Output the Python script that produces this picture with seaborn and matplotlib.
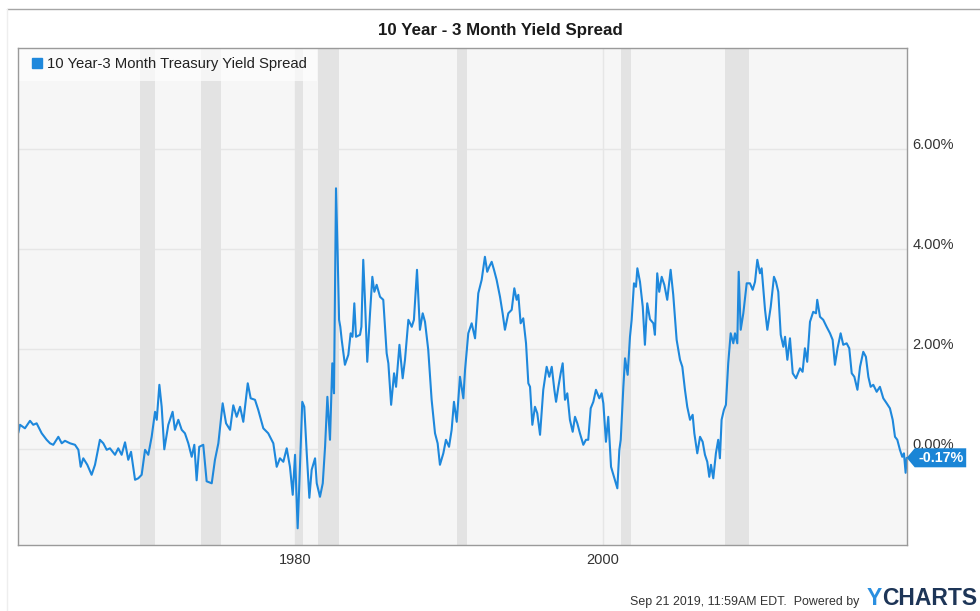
import matplotlib
matplotlib.use("Agg")
import matplotlib.pyplot as plt
import matplotlib.transforms as mtransforms
from matplotlib.lines import Line2D
from matplotlib.patches import Polygon
import pandas as pd
import seaborn as sns

# 10 Year minus 3 Month Treasury yield spread (percent), by decimal year
years = [
    1962.02, 1962.13, 1962.45, 1962.78, 1962.99, 1963.21, 1963.54, 1963.86, 1964.08, 1964.29,
    1964.62, 1964.84, 1965.05, 1965.38, 1965.70, 1965.92, 1966.07, 1966.24, 1966.50, 1966.78,
    1967.00, 1967.32, 1967.54, 1967.76, 1967.97, 1968.30, 1968.51, 1968.73, 1968.95, 1969.16,
    1969.34, 1969.60, 1969.81, 1970.03, 1970.25, 1970.46, 1970.68, 1970.90, 1971.01, 1971.18,
    1971.33, 1971.50, 1971.76, 1972.04, 1972.19, 1972.41, 1972.63, 1972.84, 1973.06, 1973.28,
    1973.45, 1973.60, 1973.77, 1974.03, 1974.25, 1974.58, 1974.79, 1975.01, 1975.29, 1975.51,
    1975.77, 1975.98, 1976.20, 1976.42, 1976.63, 1976.92, 1977.11, 1977.39, 1977.60, 1977.93,
    1978.25, 1978.58, 1978.80, 1979.01, 1979.23, 1979.45, 1979.66, 1979.84, 1979.99, 1980.16,
    1980.31, 1980.46, 1980.59, 1980.75, 1980.92, 1981.07, 1981.29, 1981.40, 1981.61, 1981.79,
    1981.94, 1982.09, 1982.26, 1982.41, 1982.52, 1982.65, 1982.75, 1982.85, 1982.93, 1983.02,
    1983.23, 1983.45, 1983.60, 1983.72, 1983.84, 1983.95, 1984.21, 1984.30, 1984.42, 1984.53,
    1984.68, 1984.86, 1985.01, 1985.14, 1985.29, 1985.51, 1985.72, 1985.94, 1986.05, 1986.23,
    1986.42, 1986.55, 1986.77, 1986.98, 1987.13, 1987.35, 1987.57, 1987.71, 1987.91, 1988.10,
    1988.28, 1988.43, 1988.64, 1988.86, 1989.08, 1989.25, 1989.40, 1989.62, 1989.79, 1989.99,
    1990.16, 1990.31, 1990.49, 1990.70, 1990.92, 1991.03, 1991.24, 1991.46, 1991.68, 1991.89,
    1992.11, 1992.32, 1992.47, 1992.60, 1992.76, 1992.91, 1993.08, 1993.30, 1993.47, 1993.62,
    1993.84, 1994.06, 1994.23, 1994.38, 1994.49, 1994.64, 1994.81, 1994.99, 1995.14, 1995.25,
    1995.40, 1995.57, 1995.72, 1995.90, 1996.11, 1996.33, 1996.50, 1996.66, 1996.83, 1996.94,
    1997.09, 1997.24, 1997.37, 1997.52, 1997.67, 1997.84, 1998.02, 1998.17, 1998.32, 1998.49,
    1998.71, 1998.88, 1999.03, 1999.19, 1999.36, 1999.53, 1999.75, 1999.90, 2000.01, 2000.18,
    2000.33, 2000.51, 2000.70, 2000.92, 2001.05, 2001.14, 2001.31, 2001.42, 2001.59, 2001.74,
    2001.85, 2002.00, 2002.13, 2002.22, 2002.39, 2002.57, 2002.71, 2002.86, 2003.04, 2003.26,
    2003.36, 2003.51, 2003.64, 2003.80, 2003.97, 2004.16, 2004.38, 2004.55, 2004.77, 2004.99,
    2005.14, 2005.31, 2005.46, 2005.64, 2005.81, 2005.92, 2006.11, 2006.29, 2006.46, 2006.61,
    2006.76, 2006.89, 2007.00, 2007.15, 2007.32, 2007.47, 2007.58, 2007.69, 2007.84, 2007.97,
    2008.12, 2008.28, 2008.45, 2008.56, 2008.71, 2008.80, 2008.93, 2009.10, 2009.32, 2009.53,
    2009.71, 2009.86, 2010.01, 2010.18, 2010.29, 2010.51, 2010.66, 2010.88, 2011.09, 2011.22,
    2011.37, 2011.53, 2011.70, 2011.81, 2011.96, 2012.13, 2012.31, 2012.52, 2012.78, 2012.95,
    2013.10, 2013.25, 2013.43, 2013.64, 2013.82, 2013.90, 2014.08, 2014.29, 2014.51, 2014.73,
    2014.90, 2015.05, 2015.22, 2015.42, 2015.59, 2015.81, 2015.98, 2016.14, 2016.31, 2016.51,
    2016.68, 2016.89, 2017.06, 2017.22, 2017.37, 2017.54, 2017.76, 2017.97, 2018.19, 2018.41,
    2018.62, 2018.80, 2018.95, 2019.10, 2019.27, 2019.42, 2019.53, 2019.64, 2019.71,
]
spread = [
    0.33, 0.49, 0.42, 0.57, 0.49, 0.52, 0.32, 0.19, 0.12, 0.09,
    0.25, 0.12, 0.17, 0.12, 0.09, -0.01, -0.35, -0.18, -0.31, -0.51,
    -0.31, 0.19, 0.12, -0.01, 0.02, -0.11, 0.02, -0.11, 0.14, -0.21,
    -0.05, -0.61, -0.58, -0.51, -0.01, -0.11, 0.25, 0.75, 0.59, 1.29,
    0.85, -0.00, 0.49, 0.75, 0.39, 0.59, 0.39, 0.32, 0.12, -0.15,
    0.09, -0.62, 0.05, 0.09, -0.64, -0.68, -0.21, 0.12, 0.92, 0.52,
    0.39, 0.88, 0.65, 0.85, 0.55, 1.32, 1.02, 0.99, 0.79, 0.42,
    0.32, 0.12, -0.35, -0.18, -0.25, 0.02, -0.35, -0.91, -0.11, -1.58,
    -0.35, 0.95, 0.85, -0.08, -0.97, -0.41, -0.18, -0.68, -0.95, -0.68,
    0.05, 1.05, 0.19, 1.72, 1.12, 5.22, 3.99, 2.59, 2.45, 2.19,
    1.69, 1.89, 2.32, 2.25, 2.92, 2.25, 2.29, 2.45, 3.79, 2.99,
    1.75, 2.72, 3.45, 3.15, 3.29, 3.05, 2.99, 1.92, 1.72, 0.89,
    1.52, 1.25, 2.09, 1.42, 1.79, 2.59, 2.45, 2.59, 3.59, 2.39,
    2.72, 2.55, 1.99, 0.99, 0.32, 0.12, -0.31, -0.08, 0.19, 0.05,
    0.39, 0.95, 0.55, 1.45, 1.02, 1.59, 2.32, 2.52, 2.22, 3.12,
    3.39, 3.85, 3.55, 3.65, 3.75, 3.59, 3.39, 3.05, 2.72, 2.39,
    2.72, 2.79, 3.22, 2.99, 3.09, 2.52, 2.62, 2.12, 1.32, 1.25,
    0.49, 0.85, 0.72, 0.29, 1.19, 1.65, 1.45, 1.65, 1.19, 0.95,
    1.25, 1.52, 1.72, 0.99, 1.12, 0.59, 0.35, 0.65, 0.52, 0.32,
    0.09, 0.19, 0.19, 0.82, 0.95, 1.19, 1.02, 1.12, 0.92, 0.15,
    0.65, -0.35, -0.55, -0.78, -0.01, 0.19, 1.25, 1.82, 1.49, 2.25,
    2.59, 3.32, 3.25, 3.62, 3.35, 2.85, 2.09, 2.92, 2.60, 2.52,
    2.29, 3.52, 3.15, 3.45, 3.29, 2.99, 3.59, 3.09, 2.19, 1.79,
    1.65, 1.19, 0.85, 0.59, 0.69, 0.32, -0.08, 0.25, 0.15, -0.11,
    -0.25, -0.55, -0.31, -0.58, -0.08, 0.19, -0.18, 0.59, 0.79, 0.89,
    1.72, 2.32, 2.12, 2.32, 2.12, 3.55, 2.39, 2.72, 3.32, 3.32,
    3.19, 3.35, 3.79, 3.52, 3.62, 2.79, 2.39, 2.85, 3.45, 3.35,
    3.15, 2.29, 2.05, 2.25, 1.79, 2.22, 1.52, 1.42, 1.62, 1.55,
    2.02, 1.75, 2.55, 2.75, 2.72, 2.99, 2.65, 2.59, 2.45, 2.32,
    2.19, 1.69, 2.02, 2.32, 2.09, 2.12, 2.02, 1.52, 1.45, 1.19,
    1.65, 1.95, 1.85, 1.45, 1.25, 1.29, 1.15, 1.25, 1.02, 0.92,
    0.82, 0.59, 0.25, 0.19, -0.01, -0.15, -0.08, -0.47, -0.17,
]

# NBER recession periods (decimal years)
recession_start = [1969.92, 1973.88, 1980.00, 1981.50, 1990.50, 2001.17, 2007.92]
recession_end = [1970.87, 1975.20, 1980.50, 1982.87, 1991.17, 2001.83, 2009.46]

ytick_values = [0, 2, 4, 6]
ytick_labels = ["0.00%", "2.00%", "4.00%", "6.00%"]
xtick_values = [1980, 2000]
xtick_labels = ["1980", "2000"]

title_text = "10 Year - 3 Month Yield Spread"
series_name = "10 Year-3 Month Treasury Yield Spread"
latest_value = -0.17
latest_label = "-0.17%"
footer_text = "Sep 21 2019, 11:59AM EDT.  Powered by"

LINE_BLUE = "#1e88dc"
TAG_BLUE = "#1a85d6"

df = pd.DataFrame({"year": years, "spread": spread})

sns.set_theme(style="white")
plt.rcParams["font.family"] = ["Liberation Sans", "DejaVu Sans"]

W, H = 980, 611
fig = plt.figure(figsize=(W / 100, H / 100), dpi=100)
fig.patch.set_facecolor("white")

left, right, top, bottom = 18, 906.7, 47.5, 544.5
ax = fig.add_axes([left / W, 1 - bottom / H, (right - left) / W, (bottom - top) / H])
ax.set_facecolor("#f6f6f6")

# recession shading
for s, e in zip(recession_start, recession_end):
    ax.axvspan(s, e, color="#e3e3e3", lw=0, zorder=1)

sns.lineplot(data=df, x="year", y="spread", ax=ax, color=LINE_BLUE,
             linewidth=1.5, legend=False, zorder=3)

ax.set_xlim(1962.0, years[-1])
ax.set_ylim(-1.904, 8.036)

ax.set_axisbelow(True)
ax.grid(True, color="#e6e6e6", linewidth=1.0)

ax.set_xticks(xtick_values)
ax.set_xticklabels(xtick_labels)
ax.set_yticks(ytick_values)
ax.set_yticklabels(ytick_labels)
ax.yaxis.tick_right()
ax.tick_params(axis="both", length=0, labelsize=10.5, labelcolor="#333333")
ax.tick_params(axis="x", pad=6)
ax.tick_params(axis="y", pad=4)
for lab in ax.get_yticklabels():
    lab.set_va("baseline")
ax.set_xlabel("")
ax.set_ylabel("")

for sp in ax.spines.values():
    sp.set_visible(True)
    sp.set_color("#9a9a9a")
    sp.set_linewidth(1.0)
    sp.set_zorder(8)

# legend
handle = Line2D([], [], marker="s", color=LINE_BLUE, linestyle="none", markersize=7.5)
leg = ax.legend([handle], [series_name], loc="upper left", bbox_to_anchor=(0, 1),
                fontsize=10.7, frameon=True, fancybox=False, framealpha=0.65,
                facecolor="white", edgecolor="none", borderaxespad=0.0,
                borderpad=0.65, handletextpad=0.1, handlelength=1.2)
for t in leg.get_texts():
    t.set_color("#222222")

# latest value tag
tag_trans = fig.dpi_scale_trans + mtransforms.ScaledTranslation(
    years[-1], latest_value, ax.transData)
tag = Polygon([(0.0, 0.0), (0.08, 0.095), (0.595, 0.095), (0.595, -0.095), (0.08, -0.095)],
              closed=True, transform=tag_trans, facecolor=TAG_BLUE, edgecolor="none",
              clip_on=False, zorder=9)
ax.add_patch(tag)
ax.text(0.34, -0.005, latest_label, transform=tag_trans, ha="center", va="center",
        color="white", fontsize=10.3, fontweight="bold", clip_on=False, zorder=10)

# title
fig.text(500 / W, 1 - 31 / H, title_text, ha="center", va="center",
         fontsize=12.2, fontweight="bold", color="#1a1a1a")

# frame lines of the chart card
fig.add_artist(Line2D([7 / W, 1.0], [1 - 9 / H, 1 - 9 / H], transform=fig.transFigure,
                      color="#a5a5a5", linewidth=1.0))
fig.add_artist(Line2D([7 / W, 7 / W], [0.0, 1 - 9 / H], transform=fig.transFigure,
                      color="#eeeeee", linewidth=1.0))

# footer
base_y = 1 - 605 / H
brand_rest = fig.text(977 / W, base_y, "CHARTS", ha="right", va="baseline",
                      fontsize=16.5, fontweight="bold", color="#1d3557")
fig.canvas.draw()
renderer = fig.canvas.get_renderer()
bb = brand_rest.get_window_extent(renderer)
fig.text(bb.x0 / W, base_y, "Y", ha="right", va="baseline",
         fontsize=16.5, fontweight="bold", color="#2a8fe0")
fig.text(859 / W, base_y, footer_text, ha="right", va="baseline",
         fontsize=8.9, color="#333333",
         family=["Liberation Sans Narrow", "Liberation Sans", "DejaVu Sans"])

fig.savefig("out.png", dpi=100)
